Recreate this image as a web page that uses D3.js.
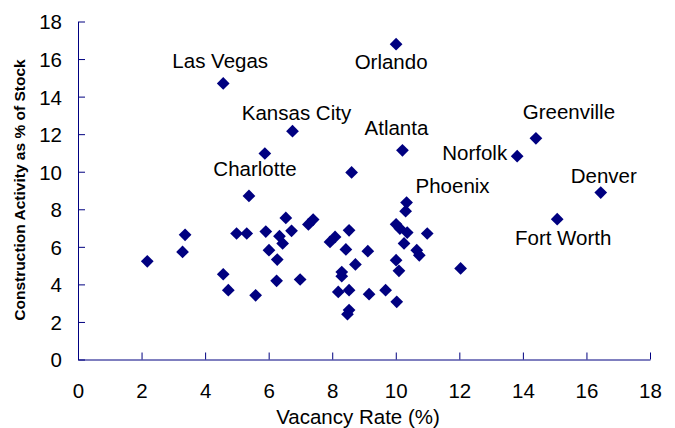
<!DOCTYPE html>
<html>
<head>
<meta charset="utf-8">
<script src="https://cdn.jsdelivr.net/npm/d3@7"></script>
<style>
  body { margin: 0; background: white; }
  text { font-family: Arial, "Liberation Sans", sans-serif; }
</style>
</head>
<body>
<div id="scatterChart"></div>
<script>
// vacancy rate (%) and construction activity (% of stock), one entry per metro
const vacancy = [2.18, 3.37, 3.29, 4.99, 5.31, 4.57, 4.73, 5.59, 8.61, 5.38,
    6.54, 7.40, 7.25, 5.91, 6.72, 6.34, 6.44, 6.01, 6.27, 6.25,
    6.99, 8.53, 8.09, 7.93, 8.43, 9.12, 8.73, 8.30, 8.30, 8.19,
    8.53, 9.16, 8.53, 8.48, 10.34, 10.31, 10.01, 10.13, 10.36, 10.99,
    10.26, 10.66, 10.74, 10.01, 10.10, 12.04, 9.68, 10.03, 4.57, 6.75,
    5.88, 10.01, 10.21, 14.41, 13.82, 16.45, 15.08]
const construction = [5.23, 6.64, 5.73, 6.71, 6.71, 4.54, 3.69, 3.42, 9.96, 8.71,
    7.54, 7.45, 7.19, 6.81, 6.85, 6.57, 6.18, 5.82, 5.32, 4.19,
    4.26, 6.88, 6.53, 6.26, 5.86, 5.77, 5.06, 4.66, 4.44, 3.60,
    3.69, 3.48, 2.63, 2.41, 8.36, 7.90, 7.20, 6.97, 6.76, 6.71,
    6.18, 5.82, 5.55, 5.29, 4.72, 4.85, 3.69, 3.07, 14.70, 12.16,
    10.97, 16.79, 11.14, 11.78, 10.83, 8.89, 7.47]

// labelled metros and the index of their point in the arrays above
const cityNames = ['Las Vegas', 'Kansas City', 'Charlotte', 'Orlando', 'Atlanta',
    'Greenville', 'Norfolk', 'Phoenix', 'Denver', 'Fort Worth']
const cityIndex = [48, 49, 9, 51, 52, 53, 54, 34, 55, 56]

const xTicks = [0, 2, 4, 6, 8, 10, 12, 14, 16, 18]
const yTicks = [0, 2, 4, 6, 8, 10, 12, 14, 16, 18]

const width = 675
const height = 428
const margin = {'top': 21.5, 'bottom': 68.5, 'left': 78, 'right': 25}
const axisColor = '#000080'
const fontSize = 20.5

// label placement relative to its point (pixels), anchor
const labelOffsets = [
    [-3, -15, 'middle'], [4, -11, 'middle'], [6, -20, 'middle'], [-5, 25, 'middle'],
    [-6, -15, 'middle'], [33, -19, 'middle'], [-10, 4, 'end'], [46, -10, 'middle'],
    [3, -10, 'middle'], [6, 26, 'middle']
]

const x = d3.scaleLinear().domain([0, 18]).range([margin.left, width - margin.right])
const y = d3.scaleLinear().domain([0, 18]).range([height - margin.bottom, margin.top])

const svg = d3.select('#scatterChart')
    .append('svg')
    .attr('width', width)
    .attr('height', height)

// axes, ticks point into the plot
const xAxis = svg.append('g')
    .attr('transform', `translate(0,${y(0)})`)
    .call(d3.axisBottom(x).tickValues(xTicks).tickSize(-7).tickPadding(16).tickSizeOuter(0))
const yAxis = svg.append('g')
    .attr('transform', `translate(${x(0)},0)`)
    .call(d3.axisLeft(y).tickValues(yTicks).tickSize(-7).tickPadding(16).tickSizeOuter(0))

for (const ax of [xAxis, yAxis]) {
    ax.select('.domain').attr('stroke', axisColor)
    ax.selectAll('.tick line').attr('stroke', axisColor)
    ax.selectAll('.tick text')
        .attr('fill', 'black')
        .style('font-size', fontSize + 'px')
        .style('font-family', 'Arial, "Liberation Sans", sans-serif')
}
xAxis.selectAll('.tick text').attr('dy', '1.08em')
yAxis.selectAll('.tick text').attr('dy', '0.36em')

// axis titles
svg.append('text')
    .attr('x', 358)
    .attr('y', 424)
    .attr('text-anchor', 'middle')
    .style('font-size', fontSize + 'px')
    .text('Vacancy Rate (%)')

svg.append('text')
    .attr('transform', `translate(25,${190}) rotate(-90)`)
    .attr('text-anchor', 'middle')
    .style('font-size', '15.5px')
    .style('font-weight', 'bold')
    .text('Construction Activity as % of Stock')

// diamonds
const diamond = d3.symbol().type(d3.symbolSquare).size(81)
svg.append('g')
    .selectAll('path')
    .data(vacancy.map((v, i) => [v, construction[i]]))
    .enter()
    .append('path')
    .attr('d', diamond)
    .attr('transform', d => `translate(${x(d[0])},${y(d[1])}) rotate(45)`)
    .style('fill', '#000080')

// city labels
svg.append('g')
    .selectAll('text')
    .data(cityNames)
    .enter()
    .append('text')
    .attr('x', (d, i) => x(vacancy[cityIndex[i]]) + labelOffsets[i][0])
    .attr('y', (d, i) => y(construction[cityIndex[i]]) + labelOffsets[i][1])
    .attr('text-anchor', (d, i) => labelOffsets[i][2])
    .style('font-size', fontSize + 'px')
    .text(d => d)
</script>
</body>
</html>
